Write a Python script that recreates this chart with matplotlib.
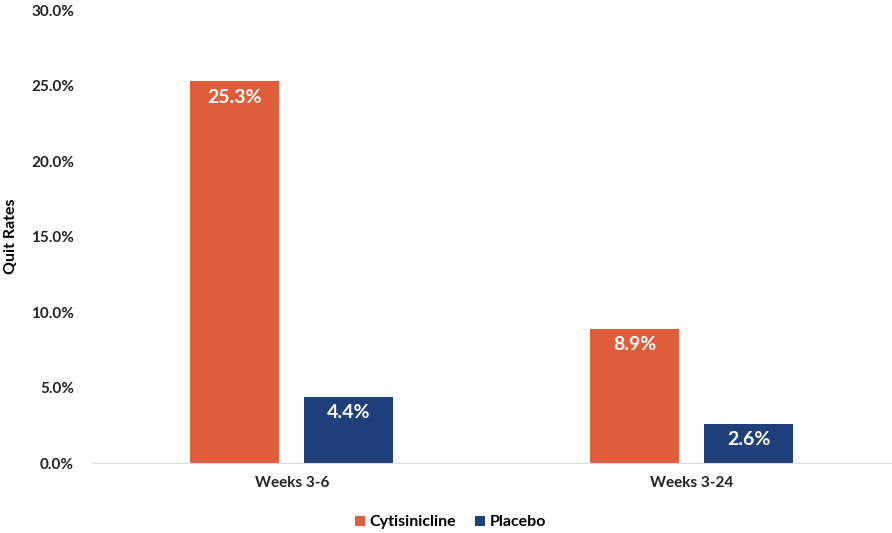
import numpy as np
import matplotlib.pyplot as plt

categories = ['Weeks 3-6', 'Weeks 3-24']
cytisinicline = [25.3, 8.9]
placebo = [4.4, 2.6]
series_names = ['Cytisinicline', 'Placebo']

plt.rcParams['font.family'] = ['Lato', 'DejaVu Sans']

fig = plt.figure(figsize=(8.92, 5.33), dpi=100)
ax = fig.add_axes([0.1031, 0.1313, 0.8969, 0.8499])

x = np.arange(len(categories))
w = 0.2225
off = 0.1425
b1 = ax.bar(x - off, cytisinicline, w, color='#E05D3B', label=series_names[0])
b2 = ax.bar(x + off, placebo, w, color='#1F3F7B', label=series_names[1])

for bars, vals in [(b1, cytisinicline), (b2, placebo)]:
    for b, v in zip(bars, vals):
        ax.text(b.get_x() + b.get_width() / 2, v - 0.5, '{:.1f}%'.format(v),
                ha='center', va='top', color='white', fontsize=14, fontweight='bold')

ax.set_xlim(-0.5, 1.5)
ax.set_ylim(0, 30)
ax.set_yticks(np.arange(0, 31, 5))
ax.set_yticklabels(['{:.1f}%'.format(t) for t in np.arange(0, 31, 5)])
ax.set_xticks(x)
ax.set_xticklabels(categories)
ax.tick_params(length=0, labelsize=11, colors='#222222')
for lab in ax.get_xticklabels() + ax.get_yticklabels():
    lab.set_fontweight('bold')
ax.tick_params(axis='y', pad=13)
ax.tick_params(axis='x', pad=9)

for s in ['top', 'right', 'left']:
    ax.spines[s].set_visible(False)
ax.spines['bottom'].set_color('#d9d9d9')

ax.set_ylabel('Quit Rates', fontsize=11.5, fontweight='bold', labelpad=6)
ax.yaxis.set_label_coords(-0.092, 0.5)

fig.legend(handles=[b1, b2], loc='lower center', bbox_to_anchor=(0.505, -0.02), ncol=2,
           frameon=False, prop={'weight': 'bold', 'size': 11.5}, handlelength=0.6,
           handleheight=0.6, handletextpad=0.3, columnspacing=1.2)

fig.savefig('out.png', dpi=100)
